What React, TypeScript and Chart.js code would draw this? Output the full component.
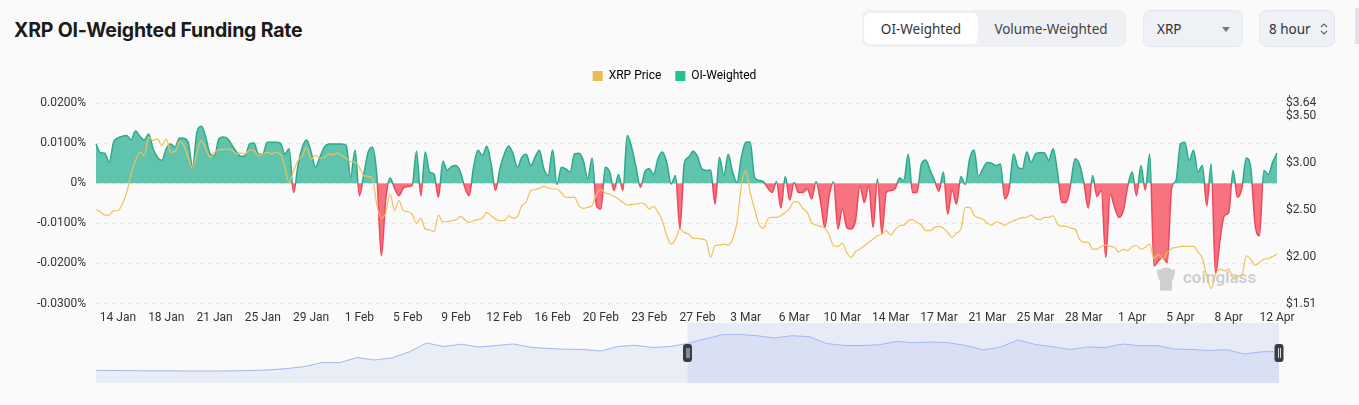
import { useEffect, useRef } from "react"
import { Chart, registerables } from "chart.js"

Chart.register(...registerables)

// 8h OI-weighted funding rate, in percent (0.0100 = 0.0100%)
const fundingRate = [
  0.0098, 0.0076, 0.0075, 0.0052, 0.0102, 0.0113, 0.0117, 0.0119, 0.0108, 0.013,
  0.0117, 0.0108, 0.0123, 0.0086, 0.0065, 0.0057, 0.0086, 0.0098, 0.009, 0.0113,
  0.0112, 0.0102, 0.004, 0.0128, 0.0142, 0.0115, 0.0073, 0.0069, 0.0111, 0.0115,
  0.0111, 0.0094, 0.0078, 0.0067, 0.0069, 0.0098, 0.01, 0.0072, 0.0073, 0.0102,
  0.0102, 0.0102, 0.01, 0.0073, 0.0086, -0.0023, 0.0044, 0.009, 0.0108, 0.0078,
  0.004, 0.0065, 0.009, 0.0098, 0.0098, 0.0098, 0.0098, 0.0094, 0.0015, 0.0083,
  -0.0031, 0.0023, 0.0078, 0.009, 0.0015, -0.0181, -0.004, 0.0013, -0.0012, -0.0031,
  -0.0012, -0.0008, -0.0006, 0.008, -0.0031, 0.0078, 0.0028, 0.0023, -0.0035, 0.0055,
  0.0032, 0.0042, 0.0044, 0.0028, -0.001, -0.0031, 0.004, 0.0082, 0.0069, 0.0092,
  0.0048, -0.0018, 0.0036, 0.0073, 0.0093, 0.0073, 0.004, 0.0065, 0.0072, 0.0044,
  0.0065, 0.0082, 0.0036, 0.0019, 0.0083, -0.0003, 0.004, 0.0036, 0.0028, 0.0073,
  0.0075, 0.0057, 0.0011, 0.0063, -0.0056, -0.0064, 0.004, 0.0028, -0.0018, 0.0022,
  -0.0018, 0.0119, 0.009, 0.004, -0.001, 0.0028, 0.0036, 0.0022, 0.0061, 0.0078,
  0.0052, -0.0002, 0.0019, -0.0114, 0.005, 0.0065, 0.008, 0.0067, 0.0036, 0.0032,
  0.0033, -0.0052, 0.0065, 0.0019, 0.0072, 0.0028, 0.0002, 0.0065, 0.0102, 0.0103,
  0.0015, 0.0007, 0.0004, -0.0012, -0.0023, 0.0004, -0.0062, 0.0017, -0.0042, 0.0002,
  -0.0023, -0.0023, -0.0014, -0.0039, 0.0004, -0.0043, -0.011, -0.0031, 0.0004, -0.0114,
  -0.0064, -0.011, -0.0114, -0.0093, -0.0006, -0.0048, -0.0006, -0.011, 0.0011, -0.0125,
  -0.0023, -0.0018, -0.0014, 0.0013, 0.0007, 0.0072, -0.0023, -0.0023, 0.0048, 0.0058,
  0.0032, 0.0007, -0.002, 0.0028, -0.0077, -0.0017, -0.0052, 0.0017, -0.0003, 0.0061,
  0.0083, 0.0017, 0.0036, 0.0052, 0.005, 0.0044, 0.0048, -0.0039, -0.0014, 0.0073,
  0.004, 0.0036, 0.0078, 0.0052, 0.0073, 0.0076, 0.0076, 0.0057, 0.0086, 0.0028,
  -0.0048, -0.0048, -0.0002, 0.0061, 0.0047, 0.0002, -0.0062, 0.0019, -0.0033, -0.0018,
  -0.0185, -0.0027, -0.006, -0.0085, -0.0068, -0.0008, 0.0028, -0.0031, 0.0044, -0.0017,
  0.0073, -0.0206, -0.0193, -0.0185, -0.0198, -0.0012, 0.0007, 0.0098, 0.0102, 0.0057,
  0.0082, 0.0028, 0.0044, -0.0056, 0.0048, -0.0227, -0.0143, -0.0081, -0.0073, 0.0032,
  -0.0035, -0.0012, 0.0063, 0.004, -0.0102, -0.0131, 0.0032, 0.0022, 0.0052, 0.0075,
]

// XRP price in USD, same 8h steps
const xrpPrice = [
  2.507, 2.486, 2.45, 2.45, 2.496, 2.496, 2.567, 2.691, 2.887, 3.028,
  3.117, 3.082, 3.277, 3.241, 3.259, 3.188, 3.259, 3.117, 3.124, 3.23,
  3.188, 3.064, 2.947, 3.117, 3.241, 3.152, 3.064, 3.117, 3.145, 3.145,
  3.152, 3.135, 3.099, 3.11, 3.099, 3.142, 3.135, 3.082, 3.099, 3.117,
  3.099, 3.117, 3.099, 2.957, 2.791, 2.922, 3.028, 3.082, 3.17, 3.046,
  3.082, 3.053, 3.064, 3.099, 3.089, 3.11, 3.082, 3.053, 3.018, 3.011,
  2.957, 2.869, 2.862, 2.833, 2.55, 2.415, 2.479, 2.674, 2.496, 2.603,
  2.496, 2.486, 2.461, 2.365, 2.415, 2.301, 2.294, 2.273, 2.45, 2.379,
  2.379, 2.39, 2.401, 2.436, 2.401, 2.372, 2.39, 2.401, 2.415, 2.479,
  2.443, 2.408, 2.39, 2.39, 2.443, 2.415, 2.436, 2.55, 2.592, 2.709,
  2.72, 2.734, 2.755, 2.741, 2.727, 2.727, 2.684, 2.638, 2.638, 2.638,
  2.55, 2.521, 2.532, 2.55, 2.674, 2.72, 2.684, 2.674, 2.649, 2.621,
  2.585, 2.557, 2.564, 2.567, 2.578, 2.567, 2.514, 2.543, 2.479, 2.39,
  2.23, 2.142, 2.195, 2.301, 2.266, 2.248, 2.202, 2.202, 2.195, 2.177,
  2.0, 2.124, 2.131, 2.142, 2.131, 2.195, 2.372, 2.762, 2.922, 2.691,
  2.514, 2.355, 2.309, 2.408, 2.426, 2.426, 2.443, 2.479, 2.521, 2.592,
  2.585, 2.521, 2.479, 2.372, 2.344, 2.33, 2.309, 2.238, 2.124, 2.117,
  2.152, 2.053, 2.0, 2.06, 2.089, 2.124, 2.16, 2.195, 2.23, 2.248,
  2.284, 2.238, 2.294, 2.337, 2.344, 2.39, 2.401, 2.372, 2.344, 2.284,
  2.284, 2.319, 2.33, 2.309, 2.266, 2.213, 2.259, 2.301, 2.532, 2.532,
  2.45, 2.42, 2.408, 2.365, 2.344, 2.379, 2.365, 2.344, 2.372, 2.39,
  2.408, 2.422, 2.426, 2.45, 2.415, 2.401, 2.426, 2.426, 2.443, 2.355,
  2.33, 2.33, 2.309, 2.301, 2.195, 2.16, 2.16, 2.089, 2.089, 2.117,
  2.131, 2.117, 2.106, 2.06, 2.089, 2.071, 2.117, 2.124, 2.089, 2.106,
  2.142, 1.989, 2.035, 1.982, 2.053, 2.096, 2.106, 2.117, 2.117, 2.117,
  2.117, 2.06, 1.989, 1.805, 1.67, 1.823, 1.876, 1.858, 1.876, 1.787,
  1.805, 1.812, 2.018, 1.982, 1.918, 1.947, 1.982, 1.989, 2.011, 2.035,
]

const dateTicks = [
  "14 Jan", "18 Jan", "21 Jan", "25 Jan", "29 Jan", "1 Feb", "5 Feb", "9 Feb",
  "12 Feb", "16 Feb", "20 Feb", "23 Feb", "27 Feb", "3 Mar", "6 Mar", "10 Mar",
  "14 Mar", "17 Mar", "21 Mar", "25 Mar", "28 Mar", "1 Apr", "5 Apr", "8 Apr", "12 Apr",
]
const priceTicks = [1.51, 2.0, 2.5, 3.0, 3.5, 3.64]

// overview series shown in the range slider
const sliderSeries = [
  12.7, 12.5, 12.3, 12.2, 12.2, 12.0, 12.0, 12.0, 12.2, 12.5,
  13.2, 14.5, 16.5, 20.5, 20.3, 25.5, 23.0, 25.0, 31.0, 40.0,
  36.5, 38.8, 36.0, 37.5, 39.0, 35.7, 34.5, 33.8, 33.5, 32.0,
  36.5, 37.7, 35.5, 36.5, 39.5, 44.0, 48.3, 48.5, 47.3, 45.0,
  47.3, 46.3, 39.5, 37.5, 37.5, 38.2, 41.5, 40.3, 41.0, 40.3,
  37.5, 33.0, 36.0, 43.0, 38.5, 36.3, 33.5, 36.0, 35.5, 39.0,
  37.3, 37.3, 34.0, 33.5, 32.5, 33.3, 29.0, 31.2, 31.5,
]
const sliderWindow = [34, 68]

const firstTick = 5
const tickEvery = 11

const GREEN_FILL = "#60c3ae"
const GREEN_LINE = "#2aa98b"
const RED_FILL = "#f7737f"
const RED_LINE = "#f0455a"
const PRICE_LINE = "#f0c159"

const categories = fundingRate.map((_, i) => {
  const d = new Date(Date.UTC(2025, 0, 12, 8) + i * 8 * 3600 * 1000)
  return d.toISOString().slice(0, 16).replace("T", " ")
})

function tickLabel(index: number) {
  if (index === categories.length - 1) return dateTicks[dateTicks.length - 1]
  if (index < firstTick || (index - firstTick) % tickEvery !== 0) return ""
  const k = (index - firstTick) / tickEvery
  return k < dateTicks.length - 1 ? dateTicks[k] : ""
}

// extra space between the legend and the plot
const legendGap = {
  id: "legendGap",
  beforeInit(chart: any) {
    const legend = chart.legend
    if (!legend) return
    const fit = legend.fit
    legend.fit = function () {
      fit.call(this)
      this.height += 11
    }
  },
}

const watermark = {
  id: "watermark",
  beforeDatasetsDraw(chart: Chart) {
    const { ctx, chartArea } = chart
    const x = chartArea.right - 121
    const y = chartArea.bottom - 25
    ctx.save()
    ctx.fillStyle = "#cfcfcf"
    ctx.beginPath()
    ctx.arc(x + 10, y - 3, 8, 0, Math.PI * 2)
    ctx.fill()
    ctx.fillRect(x + 4, y + 2, 12, 10)
    ctx.fillRect(x + 1, y - 9, 5, 5)
    ctx.fillRect(x + 14, y - 9, 5, 5)
    ctx.font = "bold 17px Roboto"
    ctx.textBaseline = "middle"
    ctx.fillText("coinglass", x + 27, y)
    ctx.restore()
  },
}

const sliderDecor = {
  id: "sliderDecor",
  beforeDatasetsDraw(chart: Chart) {
    const { ctx, chartArea, scales } = chart
    const x0 = scales.x.getPixelForValue(sliderWindow[0])
    const x1 = scales.x.getPixelForValue(sliderWindow[1])
    ctx.save()
    ctx.fillStyle = "rgba(135, 160, 240, 0.16)"
    ctx.fillRect(x0, chartArea.top, x1 - x0, chartArea.bottom - chartArea.top)
    ctx.restore()
  },
  afterDraw(chart: Chart) {
    const { ctx, chartArea, scales } = chart
    const mid = (chartArea.top + chartArea.bottom) / 2
    ctx.save()
    sliderWindow.forEach((v) => {
      const x = scales.x.getPixelForValue(v)
      ctx.fillStyle = "#3b3d42"
      ctx.beginPath()
      ctx.roundRect(x - 4.5, mid - 9, 9, 18, 3)
      ctx.fill()
      ctx.strokeStyle = "#d8dbe3"
      ctx.lineWidth = 1
      ctx.beginPath()
      ctx.moveTo(x - 0.5, mid - 5)
      ctx.lineTo(x - 0.5, mid + 5)
      ctx.moveTo(x + 1.5, mid - 5)
      ctx.lineTo(x + 1.5, mid + 5)
      ctx.stroke()
    })
    ctx.restore()
  },
}

function FundingChart() {
  const chartRef = useRef<HTMLCanvasElement>(null)
  const chartInstance = useRef<Chart | null>(null)

  useEffect(() => {
    if (!chartRef.current) return
    if (chartInstance.current) chartInstance.current.destroy()

    Chart.defaults.font.family = "Roboto"
    Chart.defaults.color = "#333"

    chartInstance.current = new Chart(chartRef.current, {
      type: "line",
      data: {
        labels: categories,
        datasets: [
          {
            label: "XRP Price",
            data: xrpPrice,
            yAxisID: "y1",
            borderColor: PRICE_LINE,
            borderWidth: 1.2,
            pointRadius: 0,
            fill: false,
            cubicInterpolationMode: "monotone",
          },
          {
            label: "OI-Weighted",
            data: fundingRate,
            yAxisID: "y",
            borderWidth: 1.5,
            pointRadius: 0,
            cubicInterpolationMode: "monotone",
            fill: { target: "origin", above: GREEN_FILL, below: RED_FILL },
            borderColor: (context: any) => {
              const chart = context.chart
              const { chartArea, scales } = chart
              if (!chartArea) return GREEN_LINE
              const zero = scales.y.getPixelForValue(0)
              const h = chartArea.bottom - chartArea.top
              const stop = Math.min(1, Math.max(0, (zero - chartArea.top) / h))
              const g = chart.ctx.createLinearGradient(0, chartArea.top, 0, chartArea.bottom)
              g.addColorStop(0, GREEN_LINE)
              g.addColorStop(stop, GREEN_LINE)
              g.addColorStop(stop, RED_LINE)
              g.addColorStop(1, RED_LINE)
              return g
            },
          },
        ],
      },
      options: {
        responsive: true,
        maintainAspectRatio: false,
        animation: false,
        layout: { padding: { left: 0, right: 10, top: 0, bottom: 0 } },
        plugins: {
          legend: {
            position: "top",
            labels: {
              boxWidth: 10,
              boxHeight: 10,
              padding: 14,
              color: "#555",
              font: { size: 12 },
              generateLabels: () => [
                { text: "XRP Price", fillStyle: "#e9bb52", strokeStyle: "#e9bb52", lineWidth: 0, datasetIndex: 0 },
                { text: "OI-Weighted", fillStyle: "#22c28d", strokeStyle: "#22c28d", lineWidth: 0, datasetIndex: 1 },
              ],
            },
          },
          tooltip: { enabled: false },
        },
        scales: {
          x: {
            grid: { display: false, drawTicks: false },
            border: { display: false },
            ticks: {
              autoSkip: false,
              maxRotation: 0,
              minRotation: 0,
              padding: 7,
              font: { size: 12 },
              color: "#333",
              callback: (_v: any, index: number) => tickLabel(index),
            },
          },
          y: {
            position: "left",
            min: -0.03,
            max: 0.02,
            afterFit: (scale: any) => {
              scale.width = 96
            },
            grid: { color: "#e9e9e9", drawTicks: false },
            border: { display: false, dash: [4, 4] },
            ticks: {
              stepSize: 0.01,
              padding: 10,
              font: { size: 12 },
              color: "#333",
              callback: (v: any) => {
                const n = Math.round(Number(v) * 10000) / 10000
                return n === 0 ? "0%" : n.toFixed(4) + "%"
              },
            },
          },
          y1: {
            position: "right",
            min: priceTicks[0],
            max: priceTicks[priceTicks.length - 1],
            afterFit: (scale: any) => {
              scale.width = 72
            },
            afterBuildTicks: (scale: any) => {
              scale.ticks = priceTicks.map((value) => ({ value }))
            },
            grid: { drawOnChartArea: false, drawTicks: false },
            border: { display: false },
            ticks: {
              autoSkip: false,
              padding: 9,
              font: { size: 12 },
              color: "#333",
              callback: (v: any) => "$" + Number(v).toFixed(2),
            },
          },
        },
      },
      plugins: [legendGap, watermark],
    })

    return () => {
      if (chartInstance.current) chartInstance.current.destroy()
    }
  }, [])

  return <canvas ref={chartRef} />
}

function RangeSlider() {
  const chartRef = useRef<HTMLCanvasElement>(null)
  const chartInstance = useRef<Chart | null>(null)

  useEffect(() => {
    if (!chartRef.current) return
    if (chartInstance.current) chartInstance.current.destroy()

    chartInstance.current = new Chart(chartRef.current, {
      type: "line",
      data: {
        labels: sliderSeries.map((_, i) => String(i)),
        datasets: [
          {
            data: sliderSeries,
            borderColor: "#a3b6ef",
            borderWidth: 1,
            pointRadius: 0,
            fill: "origin",
            backgroundColor: "rgba(150, 170, 225, 0.17)",
          },
        ],
      },
      options: {
        responsive: true,
        maintainAspectRatio: false,
        animation: false,
        layout: { padding: { left: 10, right: 10, top: 0, bottom: 0 } },
        plugins: { legend: { display: false }, tooltip: { enabled: false } },
        scales: {
          x: { display: false },
          y: { display: false, min: 0, max: 60 },
        },
      },
      plugins: [sliderDecor],
    })

    return () => {
      if (chartInstance.current) chartInstance.current.destroy()
    }
  }, [])

  return <canvas ref={chartRef} />
}

const box: React.CSSProperties = {
  position: "absolute",
  top: 10,
  height: 37,
  boxSizing: "border-box",
  background: "#eef1f5",
  border: "1px solid #e4e7ec",
  borderRadius: 7,
  display: "flex",
  alignItems: "center",
  fontFamily: "'Noto Sans', sans-serif",
  fontSize: 13.5,
  color: "#333",
}

export default function App() {
  return (
    <div
      style={{
        position: "absolute",
        left: 0,
        top: 0,
        width: 1359,
        height: 405,
        background: "#fafafa",
        overflow: "hidden",
      }}
    >
      <div
        style={{
          position: "absolute",
          left: 14,
          top: 18,
          fontFamily: "Inter, sans-serif",
          fontWeight: 700,
          fontSize: 19.5,
          letterSpacing: -0.2,
          color: "#1b1b1b",
        }}
      >
        XRP OI-Weighted Funding Rate
      </div>

      <div style={{ ...box, left: 862, width: 264, border: "none", background: "#eef0f3" }}>
        <div
          style={{
            position: "absolute",
            left: 2,
            top: 3,
            width: 114,
            height: 31,
            background: "#fff",
            borderRadius: 6,
            display: "flex",
            alignItems: "center",
            justifyContent: "center",
          }}
        >
          OI-Weighted
        </div>
        <div style={{ position: "absolute", left: 116, width: 146, textAlign: "center", color: "#444" }}>
          Volume-Weighted
        </div>
      </div>

      <div style={{ ...box, left: 1143, width: 100 }}>
        <span style={{ marginLeft: 13 }}>XRP</span>
        <svg width="8" height="5" style={{ position: "absolute", left: 78, top: 16 }}>
          <path d="M0 0 L8 0 L4 5 Z" fill="#777" />
        </svg>
      </div>

      <div style={{ ...box, left: 1259, width: 76 }}>
        <span style={{ marginLeft: 9 }}>8 hour</span>
        <svg width="8" height="14" style={{ position: "absolute", left: 60, top: 11 }}>
          <path d="M1 5 L4 2 L7 5 M1 9 L4 12 L7 9" stroke="#666" strokeWidth="1.2" fill="none" />
        </svg>
      </div>

      <div style={{ position: "absolute", left: 1355, top: 8, width: 4, height: 36, background: "#dfe3ea" }} />

      <div style={{ position: "absolute", left: 0, top: 56, width: 1359, height: 276 }}>
        <FundingChart />
      </div>

      <div style={{ position: "absolute", left: 86, top: 323, width: 1203, height: 60 }}>
        <RangeSlider />
      </div>
    </div>
  )
}
